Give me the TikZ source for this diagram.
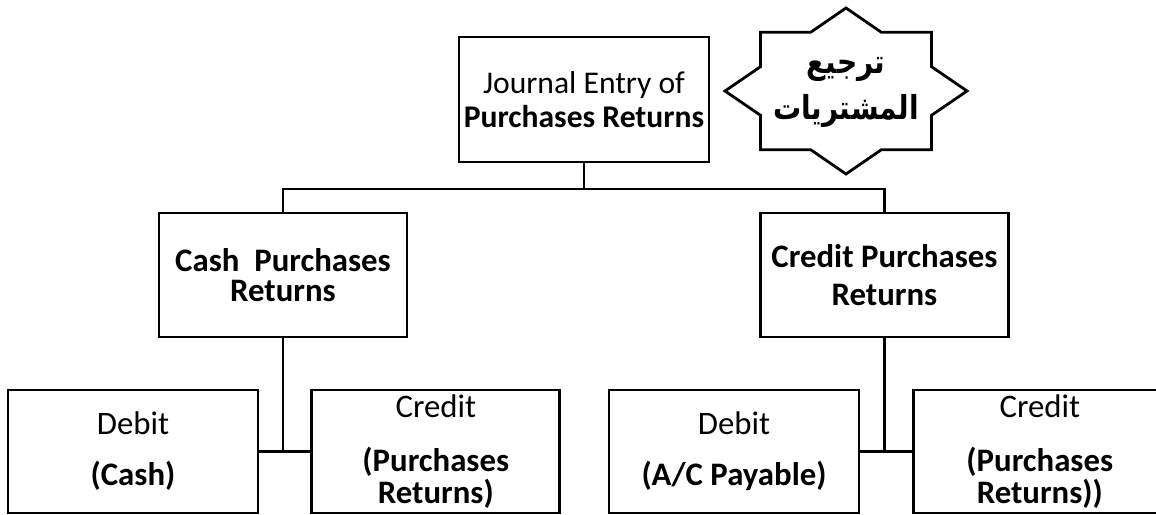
\documentclass[tikz,border=0pt]{standalone}
\usepackage{fontspec}
\setmainfont{Carlito}
\newfontfamily\arabicfont[Script=Arabic, FakeStretch=0.85]{DejaVu Sans}
\TeXXeTstate=1
\usepackage{tikz}
\usetikzlibrary{positioning, calc}
\tikzset{
  box/.style={
    draw=black, line width=1.4pt,
    rectangle, inner sep=0pt,
    minimum width=124pt, minimum height=62pt,
    align=center, font=\fontsize{16.4}{17}\selectfont,
  },
  box lo/.style={box, minimum width=125pt, minimum height=61.5pt},
  link/.style={draw=black, line width=1.4pt},
}
\newcommand{\hd}[1]{\textbf{#1}}

\begin{document}
\begin{tikzpicture}[x=1pt, y=1pt, node distance=25.5pt]
\useasboundingbox (0,0) rectangle (578,-257);

\node[box, minimum width=125pt, minimum height=62.5pt, font=\fontsize{15.8}{17}\selectfont]
  (jour) at (292,-49.75) {Journal Entry of\\\hd{Purchases Returns}};

\node[box] (cash) at (141.5,-137.5) {\hd{Cash~ Purchases}\\[-2pt]\hd{Returns}};
\node[box] (cred) at (442.25,-137.5) {\hd{Credit Purchases}\\[2pt]\hd{Returns}};

\node[box lo] (d1) at (66.5,-225.75) {Debit\\[8.5pt]\hd{(Cash)}};
\node[box, minimum height=61.5pt, right=of d1] (c1)
  {Credit\\[10pt]\hd{(Purchases}\\[-1pt]\hd{Returns)}};
\node[box lo] (d2) at (367,-225.75) {Debit\\[8.5pt]\hd{(A/C Payable)}};
\node[box, minimum width=126pt, minimum height=61.5pt, right=26pt of d2] (c2)
  {Credit\\[10pt]\hd{(Purchases}\\[-1pt]\hd{Returns))}};

% 8-point star beside the title box
\coordinate (burst) at (423,-45.5);
\draw[link, shift={(burst)}, xscale=1.458] (0:41.5)
  \foreach \k in {1,...,15}{ -- ({\k*22.5}:{ifthenelse(isodd(\k),31.75,41.5)}) } -- cycle;
\node[font=\fontsize{16.5}{20}\selectfont, align=center] (tarjee) at ($(burst)+(0,-0.5)$)
  {\arabicfont\bfseries\beginR ترجيع\endR\\[3pt]\arabicfont\bfseries\beginR المشتريات\endR};

% tree connectors
\coordinate (bar) at ($(jour.south)+(0,-12.75)$);
\draw[link] (jour.south) -- (bar);
\draw[link] (cash.north) |- (bar) -| (cred.north);

\draw[link] (d1.east) -- (c1.west);
\draw[link] (cash.south) -- (cash.south |- d1.east);
\draw[link] (d2.east) -- (c2.west);
\draw[link] (cred.south) -- (cred.south |- d2.east);

\end{tikzpicture}
\end{document}
